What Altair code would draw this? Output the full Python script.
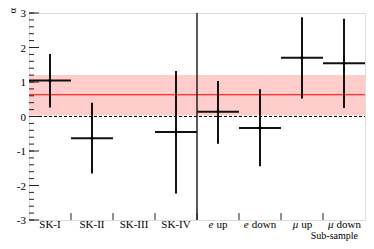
import altair as alt
import pandas as pd

cats = ["SK-I", "SK-II", "SK-III", "SK-IV", "e up", "e down", "μ up", "μ down"]
label_italic = ["", "", "", "", "e", "e", "μ", "μ"]
label_rest = ["SK-I", "SK-II", "SK-III", "SK-IV", "up", "down", "up", "down"]
values = [1.04, -0.63, None, -0.45, 0.14, -0.33, 1.70, 1.54]
err_hi = [1.81, 0.40, None, 1.32, 1.03, 0.79, 2.88, 2.83]
err_lo = [0.26, -1.65, None, -2.23, -0.79, -1.44, 0.52, 0.25]
fit_value = 0.63
fit_lo = 0.03
fit_hi = 1.20
y_ticks_major = [-3, -2, -1, 0, 1, 2, 3]
y_tick_labels = ["-3", "-2", "-1", "0", "1", "2", "3"]
y_ticks_minor = [round(-3 + 0.2 * k, 1) for k in range(31)]
divider = 4

W, H = 336, 207
FONT = "Liberation Serif, Times New Roman, serif"
FS = 11
GAP = 3.0

# rough Times-like glyph widths (em) for centring the mixed italic/roman labels
EM = {"e": 0.444, "μ": 0.576, "u": 0.5, "p": 0.5, "d": 0.5, "o": 0.5, "w": 0.722, "n": 0.5}


def tw(s):
    return sum(EM.get(ch, 0.5) for ch in s) * FS


rows = []
for i, c in enumerate(cats):
    rows.append(dict(cat=c, lo=i, hi=i + 1, mid=i + 0.5, v=values[i], eh=err_hi[i], el=err_lo[i]))
df = pd.DataFrame(rows)
pts = df.dropna()

xs = alt.Scale(domain=[0, 8], nice=False, zero=False)
ys = alt.Scale(domain=[-3, 3], nice=False, zero=False)


def X(f):
    return alt.X(f, scale=xs, axis=None)


def Y(f):
    return alt.Y(f, scale=ys, axis=None)


band = alt.Chart(pd.DataFrame([{"a": fit_lo, "b": fit_hi}])).mark_rect(color="#ffcccc").encode(
    x=alt.value(0), x2=alt.value(W), y=Y("a:Q"), y2="b:Q")

fitline = alt.Chart(pd.DataFrame([{"y": fit_value}])).mark_rule(color="#ff0000", strokeWidth=1).encode(
    x=alt.value(0), x2=alt.value(W), y=Y("y:Q"))

zero = alt.Chart(pd.DataFrame([{"y": 0}])).mark_rule(color="#000", strokeWidth=1, strokeDash=[3, 2]).encode(
    x=alt.value(0), x2=alt.value(W), y=Y("y:Q"))

major = alt.Chart(pd.DataFrame({"y": y_ticks_major})).mark_rule(color="#222", strokeWidth=1).encode(
    x=alt.value(0), x2=alt.value(10), y=Y("y:Q"))
minor = alt.Chart(pd.DataFrame({"y": y_ticks_minor})).mark_rule(color="#222", strokeWidth=1).encode(
    x=alt.value(0), x2=alt.value(5), y=Y("y:Q"))
ylab = alt.Chart(pd.DataFrame({"y": y_ticks_major, "t": y_tick_labels})).mark_text(
    font=FONT, fontSize=FS, color="#000", align="right", baseline="middle", dy=1).encode(
    x=alt.value(-3), y=Y("y:Q"), text="t:N")

xt = alt.Chart(pd.DataFrame({"x": list(range(1, 8))})).mark_rule(color="#222", strokeWidth=1).encode(
    x=X("x:Q"), y=alt.value(H), y2=alt.value(H - 7))

div = alt.Chart(pd.DataFrame({"x": [divider]})).mark_rule(color="#222", strokeWidth=1.5).encode(
    x=X("x:Q"), y=alt.value(0), y2=alt.value(H))

hbar = alt.Chart(pts).mark_rule(color="#111", strokeWidth=2).encode(
    x=X("lo:Q"), x2="hi:Q", y=Y("v:Q"))
vbar = alt.Chart(pts).mark_rule(color="#111", strokeWidth=2).encode(
    x=X("mid:Q"), y=Y("el:Q"), y2="eh:Q")
dots = alt.Chart(pts).mark_point(filled=True, color="#000", size=10, opacity=1).encode(
    x=X("mid:Q"), y=Y("v:Q"))

LY = H + 8
label_layers = []
for i in range(len(cats)):
    it, rest = label_italic[i], label_rest[i]
    d = pd.DataFrame([{"mid": i + 0.5, "it": it, "rest": rest}])
    if it:
        total = tw(it) + GAP + tw(rest)
        split = -total / 2 + tw(it)
        label_layers.append(alt.Chart(d).mark_text(
            font=FONT, fontSize=FS, fontStyle="italic", color="#000", baseline="alphabetic",
            align="right", dx=split).encode(x=X("mid:Q"), y=alt.value(LY), text="it:N"))
        label_layers.append(alt.Chart(d).mark_text(
            font=FONT, fontSize=FS, color="#000", baseline="alphabetic", align="left",
            dx=split + GAP).encode(x=X("mid:Q"), y=alt.value(LY), text="rest:N"))
    else:
        label_layers.append(alt.Chart(d).mark_text(
            font=FONT, fontSize=FS, color="#000", baseline="alphabetic", align="center").encode(
            x=X("mid:Q"), y=alt.value(LY), text="rest:N"))

xtitle = alt.Chart(pd.DataFrame({"t": ["Sub-sample"]})).mark_text(
    font=FONT, fontSize=10, color="#000", align="right", baseline="alphabetic").encode(
    x=alt.value(W - 7), y=alt.value(H + 19), text="t:N")

ytitle = alt.Chart(pd.DataFrame({"t": ["α"]})).mark_text(
    font=FONT, fontSize=10, color="#000", angle=270, align="right", baseline="middle").encode(
    x=alt.value(-16), y=alt.value(-5), text="t:N")

chart = alt.layer(band, fitline, zero, major, minor, ylab, xt, div, hbar, vbar, dots,
                  *label_layers, xtitle, ytitle).properties(
    width=W, height=H, autosize=alt.AutoSizeParams(type="none"),
    padding={"left": 21, "top": 5, "right": 1, "bottom": 21}
).configure_view(stroke="#222", strokeWidth=1.2).configure(background="white")

chart.save("out.html", embed_options={"renderer": "svg", "actions": False})
